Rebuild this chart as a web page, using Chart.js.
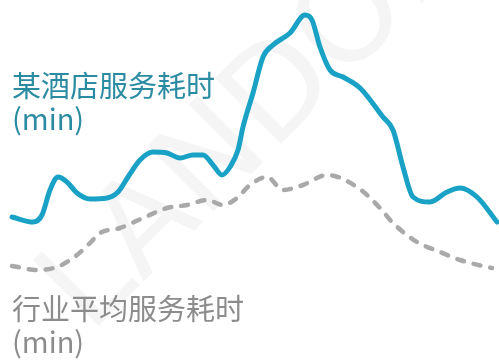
<!DOCTYPE html>
<html>
<head>
<meta charset="utf-8">
<script src="https://cdn.jsdelivr.net/npm/chart.js@4"></script>
<style>
    html, body { margin: 0; padding: 0; background: #fff; }
    #wrap { position: relative; width: 499px; height: 361px; overflow: hidden; }
    .label {
        position: absolute;
        left: 12px;
        font-family: "Noto Sans CJK SC", "Noto Sans", sans-serif;
        font-size: 29px;
        line-height: 33px;
        white-space: nowrap;
    }
    #hotelLabel { top: 68px; color: #2b8ba3; }
    #industryLabel { top: 291px; color: #8c8c8c; }
</style>
</head>
<body>
<div id="wrap">
    <canvas id="serviceChart" width="499" height="361"></canvas>
    <div class="label" id="hotelLabel">某酒店服务耗时<br>(min)</div>
    <div class="label" id="industryLabel">行业平均服务耗时<br>(min)</div>
</div>
<script>
// 某酒店服务耗时 (min)
const hotelX = [12, 33, 42, 50, 58, 67, 77, 90, 107, 118, 128, 140, 153, 167, 180, 193, 203, 213, 222, 230,
    238, 243, 253, 263, 273, 290, 305, 312, 320, 330, 343, 360, 383, 393, 403, 413, 430, 447, 460, 477, 497];
const hotelY = [14.4, 13.9, 14.6, 17.1, 18.4, 17.9, 16.8, 16.2, 16.3, 16.9, 18.4, 20.1, 20.9, 20.8, 20.3, 20.6, 20.6, 19.6, 18.6, 19.4,
    21.1, 23.4, 26.8, 30.4, 31.6, 32.8, 34.6, 34.1, 31.4, 29.1, 28.4, 27.3, 24.4, 23.1, 19.4, 16.4, 15.9, 16.9, 17.3, 16.4, 13.9];

// 行业平均服务耗时 (min)
const industryX = [12, 37, 57, 77, 90, 100, 120, 143, 167, 187, 207, 223, 237, 250, 267, 283, 303, 327, 357, 380,
    393, 417, 440, 460, 487, 492];
const industryY = [9.5, 9.1, 9.4, 10.6, 11.8, 12.8, 13.3, 14.3, 15.3, 15.6, 16.1, 15.6, 16.3, 17.6, 18.4, 17.1, 17.6, 18.6, 17.4, 15.3,
    13.8, 11.9, 10.9, 10.1, 9.4, 9.3];

function toPoints(xs, ys) {
    return xs.map((x, i) => ({ x: x, y: ys[i] }));
}

// faint diagonal watermark behind the lines
const watermark = {
    id: 'watermark',
    beforeDatasetsDraw(chart) {
        const ctx = chart.ctx;
        ctx.save();
        ctx.translate(90, 335);
        ctx.rotate(-45 * Math.PI / 180);
        ctx.font = '128px "DejaVu Sans", sans-serif';
        ctx.fillStyle = 'rgba(0, 0, 0, 0.04)';
        ctx.textBaseline = 'alphabetic';
        ctx.fillText('LANDOR', 0, 0);
        ctx.restore();
    }
};

new Chart(document.getElementById('serviceChart'), {
    type: 'line',
    data: {
        datasets: [{
            label: '某酒店服务耗时',
            data: toPoints(hotelX, hotelY),
            borderColor: '#1aa2c6',
            borderWidth: 5,
            pointRadius: 0,
            cubicInterpolationMode: 'monotone',
            borderCapStyle: 'round',
            borderJoinStyle: 'round',
            fill: false
        }, {
            label: '行业平均服务耗时',
            data: toPoints(industryX, industryY),
            borderColor: '#a9a9a9',
            borderWidth: 4.5,
            borderDash: [7, 10],
            borderCapStyle: 'round',
            pointRadius: 0,
            cubicInterpolationMode: 'monotone',
            fill: false
        }]
    },
    options: {
        responsive: false,
        animation: false,
        events: [],
        layout: { padding: 0 },
        plugins: {
            legend: { display: false },
            tooltip: { enabled: false }
        },
        scales: {
            x: { type: 'linear', min: 0, max: 499, display: false },
            y: { min: 0, max: 36.1, display: false }
        }
    },
    plugins: [watermark]
});
</script>
</body>
</html>
